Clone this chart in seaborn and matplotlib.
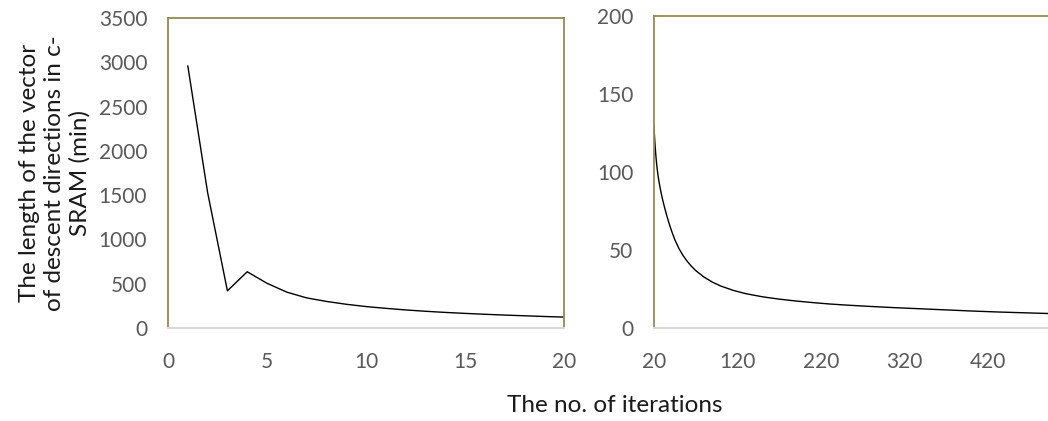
import numpy as np
import pandas as pd
import matplotlib
matplotlib.use("Agg")
import matplotlib.pyplot as plt
import seaborn as sns

# Early iterations (1..20)
iter_early = [1, 2, 3, 4, 5, 6, 7, 8, 9, 10, 11, 12, 13, 14, 15, 16, 17, 18, 19, 20]
len_early = [2960, 1530, 420, 635, 505, 405, 340, 300, 268, 242, 222, 204, 189, 176, 165,
             155, 146, 138, 130, 123]

# Later iterations (20..~490)
iter_late = [20, 20.5, 21, 21.5, 22, 23, 24, 25, 26, 28, 30, 32, 35, 38, 41, 45, 50, 55, 60,
             65, 70, 80, 90, 100, 115, 130, 150, 170, 190, 210, 230, 250, 280, 310, 340, 370,
             400, 430, 460, 492]
len_late = [129, 124, 119.5, 115.5, 112, 106, 101.2, 97.2, 93.8, 88, 83, 78.6, 72.6, 67.2,
            62.3, 56.5, 50.8, 46.3, 42.6, 39.5, 36.8, 32.6, 29.4, 26.9, 24.1, 22.0, 20.0,
            18.5, 17.3, 16.3, 15.4, 14.7, 13.8, 13.0, 12.3, 11.6, 10.9, 10.3, 9.8, 9.3]

left_yticks = [0, 500, 1000, 1500, 2000, 2500, 3000, 3500]
left_xticks = [0, 5, 10, 15, 20]
right_yticks = [0, 50, 100, 150, 200]
right_xticks = [20, 120, 220, 320, 420]

ylabel_text = "The length of the vector\nof descent directions in c-\nSRAM (min)"
xlabel_text = "The no. of iterations"

sns.set_theme(style="white")
plt.rcParams["font.family"] = ["Lato", "DejaVu Sans"]

W, H = 1048, 421
fig = plt.figure(figsize=(W / 100, H / 100), dpi=100)

frame_col = "#948a54"
base_col = "#d9d9d9"
tick_col = "#595959"


def px_axes(x0, y0, x1, y1):
    return fig.add_axes([x0 / W, 1 - y1 / H, (x1 - x0) / W, (y1 - y0) / H])


ax1 = px_axes(168, 18, 564, 328)
ax2 = px_axes(654, 16, 1048, 328)

df1 = pd.DataFrame({"it": iter_early, "len": len_early})
df2 = pd.DataFrame({"it": iter_late, "len": len_late})
sns.lineplot(data=df1, x="it", y="len", ax=ax1, color="black", linewidth=1.0)
sns.lineplot(data=df2, x="it", y="len", ax=ax2, color="black", linewidth=1.0)

ax1.set_xlim(0, 20)
ax1.set_ylim(0, 3500)
ax1.set_xticks(left_xticks)
ax1.set_yticks(left_yticks)

ax2.set_xlim(20, 492)
ax2.set_ylim(0, 200)
ax2.set_xticks(right_xticks)
ax2.set_yticks(right_yticks)

for ax in (ax1, ax2):
    ax.set_xlabel("")
    ax.set_ylabel("")
    ax.tick_params(axis="y", length=0, pad=15, labelsize=15, labelcolor=tick_col)
    ax.tick_params(axis="x", length=0, pad=17, labelsize=15, labelcolor=tick_col)
    for side in ("left", "top", "right"):
        ax.spines[side].set_color(frame_col)
        ax.spines[side].set_linewidth(1.3)
    ax.spines["bottom"].set_color(base_col)
    ax.spines["bottom"].set_linewidth(1.5)
    for sp in ax.spines.values():
        sp.set_visible(True)

ax2.spines["right"].set_visible(False)

fig.text(55 / W, 1 - 173 / H, ylabel_text, rotation=90, ha="center", va="center",
         multialignment="center", fontsize=17.5, color="#1a1a1a", linespacing=1.25)
fig.text(615 / W, 1 - 412 / H, xlabel_text, ha="center", va="baseline",
         fontsize=17.5, color="#1a1a1a")

fig.savefig("out.png", dpi=100)
